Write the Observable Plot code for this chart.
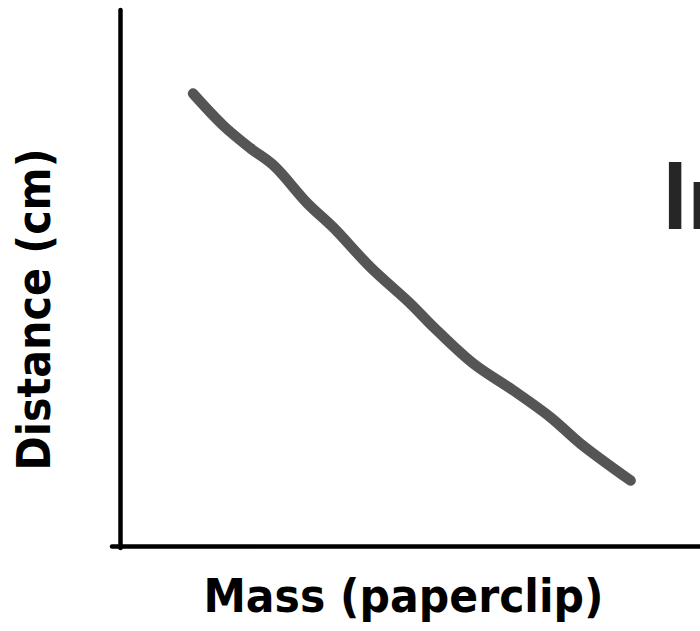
<!DOCTYPE html>
<html>
<head>
<meta charset="utf-8">
<script src="https://cdn.jsdelivr.net/npm/d3@7"></script>
<script src="https://cdn.jsdelivr.net/npm/@observablehq/plot@0.6"></script>
<style>
  html, body { margin: 0; padding: 0; background: #fff; overflow: hidden; }
  #chart { width: 700px; height: 631px; }
</style>
</head>
<body>
<div id="chart"></div>
<script>
// Mass (paperclips) and distance (cm)
const mass = [2.5, 3.55, 4.48, 5.28, 6.45, 7.34, 8.62, 10.0, 10.8, 12.17, 13.55, 14.83, 15.86, 17.59];
const distance = [84.5, 78.5, 74.3, 71.1, 64.0, 59.5, 52.1, 45.3, 40.9, 34.1, 29.1, 24.1, 19.2, 12.3];
const xLabel = ["Mass (paperclip)"];
const yLabel = ["Distance (cm)"];
const titleText = ["In"];

const data = mass.map((m, i) => ({mass: m, distance: distance[i]}));
const labelFont = "'DejaVu Sans', sans-serif";
const titleFont = "Lato, 'Open Sans', sans-serif";

const chart = Plot.plot({
  width: 700,
  height: 631,
  marginLeft: 120,
  marginRight: 0,
  marginTop: 10,
  marginBottom: 85,
  style: {background: "#fff", overflow: "visible", fontFamily: labelFont},
  x: {domain: [0, 20], axis: null},
  y: {domain: [0, 100], axis: null},
  marks: [
    Plot.ruleX([0], {stroke: "#000", strokeWidth: 4.5, strokeLinecap: "round", insetBottom: -2}),
    Plot.ruleY([0], {stroke: "#000", strokeWidth: 4.5, strokeLinecap: "round", insetLeft: -8}),
    Plot.line(data, {x: "mass", y: "distance", stroke: "#555", strokeWidth: 10.5,
      strokeLinecap: "round", strokeLinejoin: "round", curve: "catmull-rom"}),
    Plot.text(xLabel, {frameAnchor: "bottom", lineAnchor: "middle", dx: -7, dy: 51,
      fontSize: 46, fontWeight: "bold", fill: "#000", fontFamily: labelFont}),
    Plot.text(yLabel, {frameAnchor: "left", lineAnchor: "middle", textAnchor: "middle", rotate: -90, dx: -85, dy: 31,
      fontSize: 46, fontWeight: "bold", fill: "#000", fontFamily: labelFont}),
    Plot.text(titleText, {frameAnchor: "top-left", textAnchor: "start", lineAnchor: "bottom", dx: 541, dy: 218,
      fontSize: 92, fontWeight: 700, fill: "#262626", fontFamily: titleFont})
  ]
});

// fit the label widths to the sketch's lettering
d3.select(chart).selectAll("text")
  .filter(function() { return this.textContent === xLabel[0]; })
  .attr("textLength", 400).attr("lengthAdjust", "spacingAndGlyphs");
d3.select(chart).selectAll("text")
  .filter(function() { return this.textContent === yLabel[0]; })
  .attr("textLength", 322).attr("lengthAdjust", "spacingAndGlyphs");

document.getElementById("chart").appendChild(chart);
</script>
</body>
</html>
